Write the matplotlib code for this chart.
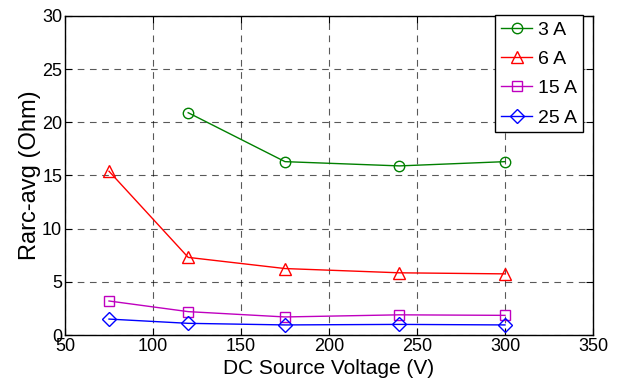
import matplotlib
matplotlib.use("Agg")
import matplotlib.pyplot as plt

plt.rcParams['font.family'] = ['Liberation Sans', 'DejaVu Sans']

# DC source voltage (V)
volts = [75, 120, 175, 240, 300]
volts_3a = [120, 175, 240, 300]

# average arc resistance (Ohm)
r_3a = [20.9, 16.3, 15.9, 16.3]
r_6a = [15.4, 7.3, 6.25, 5.85, 5.75]
r_15a = [3.2, 2.2, 1.7, 1.9, 1.85]
r_25a = [1.5, 1.1, 0.95, 1.0, 0.95]

fig = plt.figure(figsize=(6.19, 3.79), dpi=100)
ax = fig.add_axes([0.105, 0.116, 0.853, 0.842])

ax.plot(volts_3a, r_3a, color='green', marker='o', mfc='none', ms=7.5, lw=1, label='3 A')
ax.plot(volts, r_6a, color='red', marker='^', mfc='none', ms=9, lw=1, label='6 A')
ax.plot(volts, r_15a, color='m', marker='s', mfc='none', ms=7, lw=1, label='15 A')
ax.plot(volts, r_25a, color='blue', marker='D', mfc='none', ms=7, lw=1, label='25 A')

ax.set_xlim(50, 350)
ax.set_ylim(0, 30)
ax.set_xticks(range(50, 351, 50))
ax.set_yticks(range(0, 31, 5))
ax.grid(True, color='black', linestyle=(0, (6, 5)), linewidth=0.8, alpha=0.65)
ax.tick_params(direction='in', top=True, right=True, labelsize=13, length=5, pad=2)
for s in ax.spines.values():
    s.set_linewidth(1)

ax.set_xlabel('DC Source Voltage (V)', fontsize=15, labelpad=3)
ax.set_ylabel('Rarc-avg (Ohm)', fontsize=17, labelpad=1)

leg = ax.legend(loc='upper right', bbox_to_anchor=(0.981, 1.002), fontsize=14,
                fancybox=False, framealpha=1, edgecolor='black', handlelength=1.6,
                borderaxespad=0.0, handletextpad=0.3, labelspacing=0.6, borderpad=0.3)
leg.get_frame().set_linewidth(1)

fig.savefig('out.png', dpi=100)
